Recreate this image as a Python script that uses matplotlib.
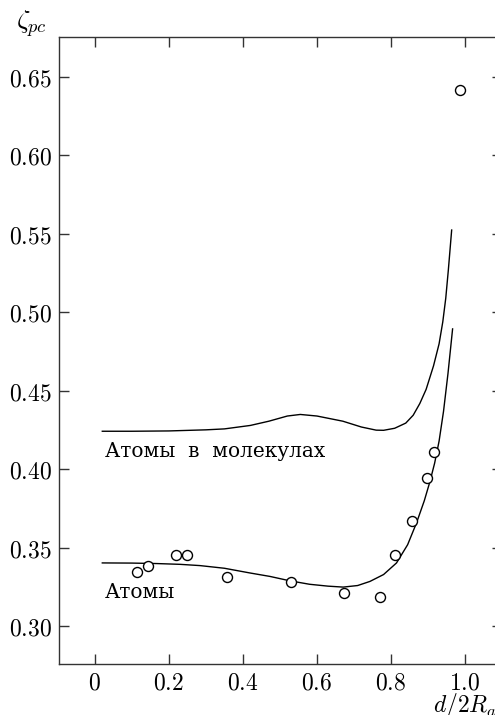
import matplotlib
matplotlib.use("Agg")
import matplotlib.pyplot as plt

# ---- data ----
x_ticks = [0, 0.2, 0.4, 0.6, 0.8, 1.0]
x_tick_labels = ["0", "0.2", "0.4", "0.6", "0.8", "1.0"]
y_ticks = [0.30, 0.35, 0.40, 0.45, 0.50, 0.55, 0.60, 0.65]
y_tick_labels = ["0.30", "0.35", "0.40", "0.45", "0.50", "0.55", "0.60", "0.65"]

# curve "Атомы в молекулах"
mol_x = [0.02, 0.10, 0.20, 0.30, 0.35, 0.42, 0.47, 0.52, 0.555, 0.60, 0.67,
         0.72, 0.76, 0.78, 0.81, 0.84, 0.86, 0.878, 0.895, 0.915, 0.93,
         0.94, 0.948, 0.955, 0.964]
mol_y = [0.4243, 0.4243, 0.4245, 0.4252, 0.4258, 0.4280, 0.4307, 0.4340,
         0.4350, 0.4340, 0.4307, 0.4270, 0.4250, 0.4249, 0.4262, 0.4295,
         0.4345, 0.4420, 0.4510, 0.4660, 0.4800, 0.4940, 0.5090, 0.5270,
         0.5525]

# curve "Атомы"
atom_x = [0.02, 0.10, 0.167, 0.23, 0.284, 0.35, 0.419, 0.473, 0.527, 0.58,
          0.63, 0.671, 0.71, 0.743, 0.78, 0.815, 0.845, 0.869, 0.89, 0.905,
          0.918, 0.93, 0.942, 0.954, 0.9665]
atom_y = [0.3404, 0.3403, 0.3400, 0.3395, 0.3387, 0.3370, 0.3340, 0.3318,
          0.3290, 0.3268, 0.3256, 0.3250, 0.3260, 0.3286, 0.3330, 0.3404,
          0.3520, 0.3659, 0.3800, 0.3920, 0.4040, 0.4180, 0.4370, 0.4610,
          0.4895]

# measured points
pts_x = [0.113, 0.144, 0.219, 0.250, 0.356, 0.530, 0.674, 0.770, 0.811,
         0.857, 0.896, 0.915, 0.986]
pts_y = [0.3346, 0.3385, 0.3453, 0.3453, 0.3314, 0.3283, 0.3215, 0.3187,
         0.3453, 0.3670, 0.3945, 0.4108, 0.6417]

label_mol = "Атомы  в  молекулах"
label_atom = "Атомы"

# ---- drawing ----
plt.rcParams["mathtext.fontset"] = "cm"
W, H = 495, 715
fig = plt.figure(figsize=(W / 100, H / 100), dpi=100)
left_px, right_px, top_px, bottom_px = 59, 502, 37, 664
ax = fig.add_axes([left_px / W, (H - bottom_px) / H,
                   (right_px - left_px) / W, (bottom_px - top_px) / H])

ax.plot(mol_x, mol_y, color="black", lw=1.0, solid_joinstyle="round")
ax.plot(atom_x, atom_y, color="black", lw=1.0, solid_joinstyle="round")
ax.plot(pts_x, pts_y, linestyle="none", marker="o", markersize=7.2,
        markerfacecolor="white", markeredgecolor="black", markeredgewidth=1.0,
        zorder=3)

ax.set_xlim(-0.097, 1.1)
ax.set_ylim(0.276, 0.6755)
ax.set_xticks(x_ticks)
ax.set_xticklabels(["$" + s + "$" for s in x_tick_labels])
ax.set_yticks(y_ticks)
ax.set_yticklabels(["$" + s + "$" for s in y_tick_labels])
ax.tick_params(direction="in", length=7.2, width=1.0, color="#333333",
               top=True, right=True, labelsize=17, pad=5)
ax.tick_params(axis="x", pad=5)
for sp in ax.spines.values():
    sp.set_color("#333333")
    sp.set_linewidth(1.0)

serif = ["DejaVu Serif"]
ax.text(0.027, 0.4082, label_mol, family=serif, fontsize=14.5,
        ha="left", va="baseline")
ax.text(0.027, 0.3182, label_atom, family=serif, fontsize=14.5,
        ha="left", va="baseline")

fig.text(16 / W, 1 - 24 / H, r"$\zeta_{pc}$", fontsize=19, ha="left", va="center")
fig.text(433 / W, 1 - 705 / H, r"$d/2R_a$", fontsize=17, ha="left", va="center")

fig.savefig("out.png", dpi=100)
